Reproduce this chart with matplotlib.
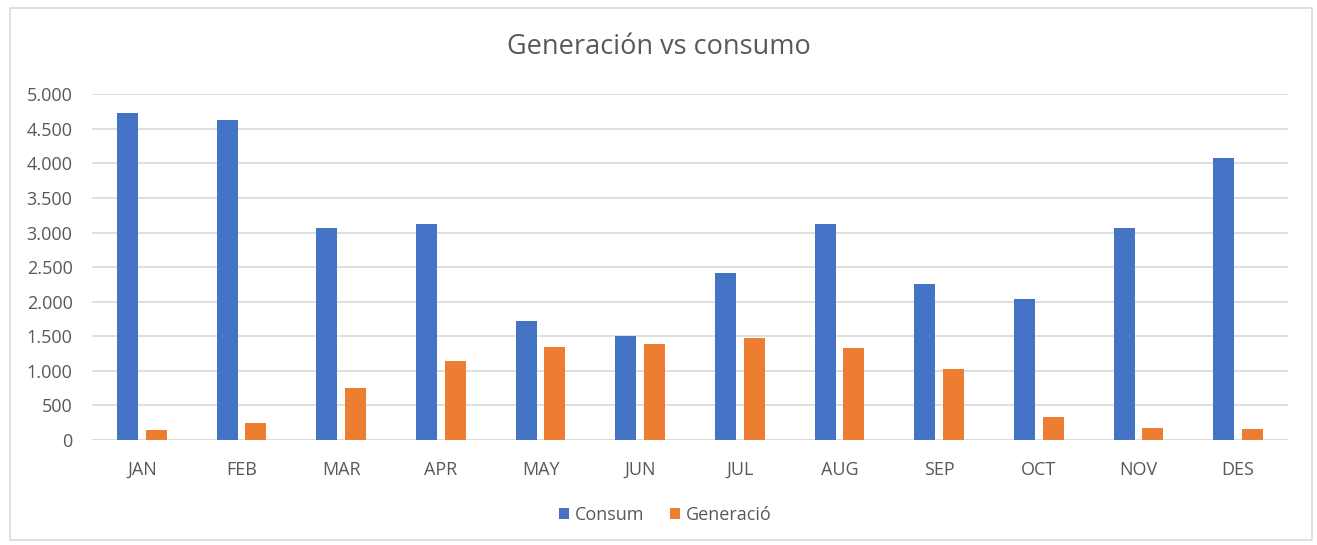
import matplotlib.pyplot as plt
import matplotlib.ticker as mticker
from matplotlib.patches import Rectangle
import numpy as np

plt.rcParams['font.family'] = ['Open Sans', 'DejaVu Sans']

meses = ['JAN', 'FEB', 'MAR', 'APR', 'MAY', 'JUN', 'JUL', 'AUG', 'SEP', 'OCT', 'NOV', 'DES']
consum = [4725, 4630, 3070, 3120, 1725, 1500, 2410, 3120, 2260, 2035, 3070, 4085]
generacio = [145, 240, 750, 1140, 1340, 1390, 1480, 1325, 1030, 335, 175, 160]

azul = '#4472C4'
naranja = '#ED7D31'
gris = '#595959'

fig = plt.figure(figsize=(13.17, 5.45), dpi=100)
ax = fig.add_axes([92/1317, 1-440/545, (1288-92)/1317, (440-94.3)/545])

x = np.arange(len(meses))
ancho = 0.21
ax.bar(x - 0.145, consum, ancho, color=azul, label='Consum', zorder=3)
ax.bar(x + 0.145, generacio, ancho, color=naranja, label='Generació', zorder=3)

ax.set_xlim(-0.5, len(meses) - 0.5)
ax.set_ylim(0, 5000)
ax.set_yticks(range(0, 5001, 500))
ax.yaxis.set_major_formatter(mticker.FuncFormatter(lambda v, p: f'{int(v):,}'.replace(',', '.')))
ax.set_xticks(x)
ax.set_xticklabels(meses)
ax.grid(axis='y', color='#D9D9D9', linewidth=1.2, zorder=0)
for s in ax.spines.values():
    s.set_visible(False)
ax.axhline(0, color='#D9D9D9', linewidth=1.2, zorder=2)
ax.tick_params(axis='both', length=0, labelsize=13, colors=gris)
ax.tick_params(axis='y', pad=14)
ax.tick_params(axis='x', pad=15)

fig.text(0.5, 1-47/545, 'Generación vs consumo', ha='center', va='center', fontsize=19.5, color=gris)

leg = fig.legend(loc='center', bbox_to_anchor=(0.505, 1-515/545), ncol=2, frameon=False,
                 fontsize=13, handlelength=0.6, handleheight=0.6, handletextpad=0.3,
                 columnspacing=1.4, labelcolor=gris)

fig.patches.append(Rectangle((10/1317, 1-540/545), 1302/1317, 532/545, transform=fig.transFigure,
                             fill=False, edgecolor='#D9D9D9', linewidth=1.2))

plt.savefig('out.png')
